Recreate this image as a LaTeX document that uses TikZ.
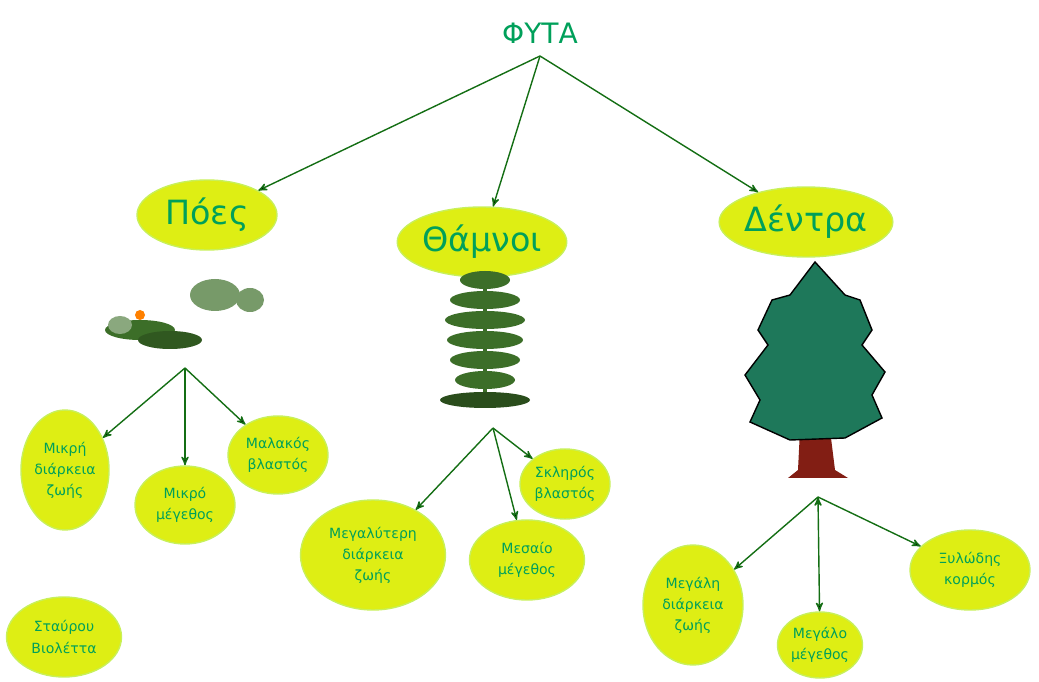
\documentclass[tikz,border=0pt]{standalone}
\usepackage{fontspec}
\setmainfont{DejaVu Sans}
\usetikzlibrary{arrows,shapes.geometric}
\definecolor{txtgreen}{RGB}{0,160,90}
\definecolor{arrgreen}{RGB}{20,110,20}
\definecolor{blobfill}{RGB}{222,238,20}
\definecolor{blobline}{RGB}{200,240,90}
\definecolor{treegreen}{RGB}{30,120,90}
\definecolor{leafgreen}{RGB}{60,110,40}
\definecolor{trunk}{RGB}{130,30,20}
\begin{document}
\begin{tikzpicture}[x=0.02cm,y=-0.02cm,>=stealth',thick,
  big node/.style={ellipse,fill=blobfill,draw=blobline,text=txtgreen,font=\fontsize{19}{22}\selectfont,inner sep=0pt},
  small node/.style={ellipse,fill=blobfill,draw=blobline,text=txtgreen,font=\fontsize{8}{12}\selectfont,align=center,inner sep=0pt},
  link/.style={->,draw=arrgreen,thick}]
  \useasboundingbox (0,0) rectangle (1039,682);
  \node[text=txtgreen,font=\fontsize{16}{18}\selectfont] (root) at (540,33) {ΦΥΤΑ};
  \coordinate (rootp) at (540,56);
  \node[big node,minimum width=2.8cm,minimum height=1.4cm] (poes) at (207,215) {Πόες};
  \node[big node,minimum width=3.16cm,minimum height=1.4cm] (thamnoi) at (482,242) {Θάμνοι};
  \node[big node,minimum width=3.3cm,minimum height=1.4cm] (dentra) at (806,222) {Δέντρα};
  % pictures
  \fill[leafgreen] (140,330) ellipse [x radius=35,y radius=10];
  \fill[leafgreen!80!black] (170,340) ellipse [x radius=32,y radius=9];
  \fill[leafgreen!70] (215,295) ellipse [x radius=25,y radius=16];
  \fill[leafgreen!70] (250,300) ellipse [x radius=14,y radius=12];
  \fill[leafgreen!60] (120,325) ellipse [x radius=12,y radius=9];
  \fill[orange] (140,315) circle [radius=5];
  \draw[leafgreen,line width=2pt] (485,400) -- (485,275);
  \foreach \yy/\ww in {280/25,300/35,320/40,340/38,360/35,380/30}
    \fill[leafgreen] (485,\yy) ellipse [x radius=\ww,y radius=9];
  \fill[leafgreen!70!black] (485,400) ellipse [x radius=45,y radius=8];
  \fill[trunk] (800,430) -- (830,430) -- (835,470) -- (848,478) -- (788,478) -- (798,470) -- cycle;
  \fill[treegreen,draw=black] (815,262) -- (845,295) -- (860,300) -- (872,330) -- (862,345) -- (885,372) -- (872,395) -- (882,418) -- (845,438) -- (790,440) -- (750,422) -- (760,400) -- (745,375) -- (768,345) -- (758,330) -- (772,300) -- (790,295) -- cycle;
  % level 2
  \coordinate (poesp) at (185,368);
  \coordinate (thamp) at (493,428);
  \coordinate (dentp) at (818,497);
  \node[small node,minimum width=1.76cm,minimum height=2.4cm] (mikridiar) at (65,470) {Μικρή\\διάρκεια\\ζωής};
  \node[small node,minimum width=2cm,minimum height=1.56cm] (mikromeg) at (185,505) {Μικρό\\μέγεθος};
  \node[small node,minimum width=2cm,minimum height=1.56cm] (malakos) at (278,455) {Μαλακός\\βλαστός};
  \node[small node,minimum width=2.9cm,minimum height=2.2cm] (megalyteri) at (373,555) {Μεγαλύτερη\\διάρκεια\\ζωής};
  \node[small node,minimum width=2.3cm,minimum height=1.6cm] (mesaio) at (527,560) {Μεσαίο\\μέγεθος};
  \node[small node,minimum width=1.8cm,minimum height=1.4cm] (skliros) at (565,484) {Σκληρός\\βλαστός};
  \node[small node,minimum width=2cm,minimum height=2.4cm] (megalidiar) at (693,605) {Μεγάλη\\διάρκεια\\ζωής};
  \node[small node,minimum width=1.7cm,minimum height=1.32cm] (megalomeg) at (820,645) {Μεγάλο\\μέγεθος};
  \node[small node,minimum width=2.4cm,minimum height=1.6cm] (xylodis) at (970,570) {Ξυλώδης\\κορμός};
  \node[small node,minimum width=2.3cm,minimum height=1.6cm] (stavrou) at (64,637) {Σταύρου\\Βιολέττα};
  \path[link]
    (rootp) edge (poes)
    (rootp) edge (thamnoi)
    (rootp) edge (dentra)
    (poesp) edge (mikridiar)
    (poesp) edge (mikromeg)
    (poesp) edge (malakos)
    (thamp) edge (megalyteri)
    (thamp) edge (mesaio)
    (thamp) edge (skliros)
    (dentp) edge (megalidiar)
    (dentp) edge (megalomeg)
    (dentp) edge (xylodis);
\end{tikzpicture}
\end{document}
